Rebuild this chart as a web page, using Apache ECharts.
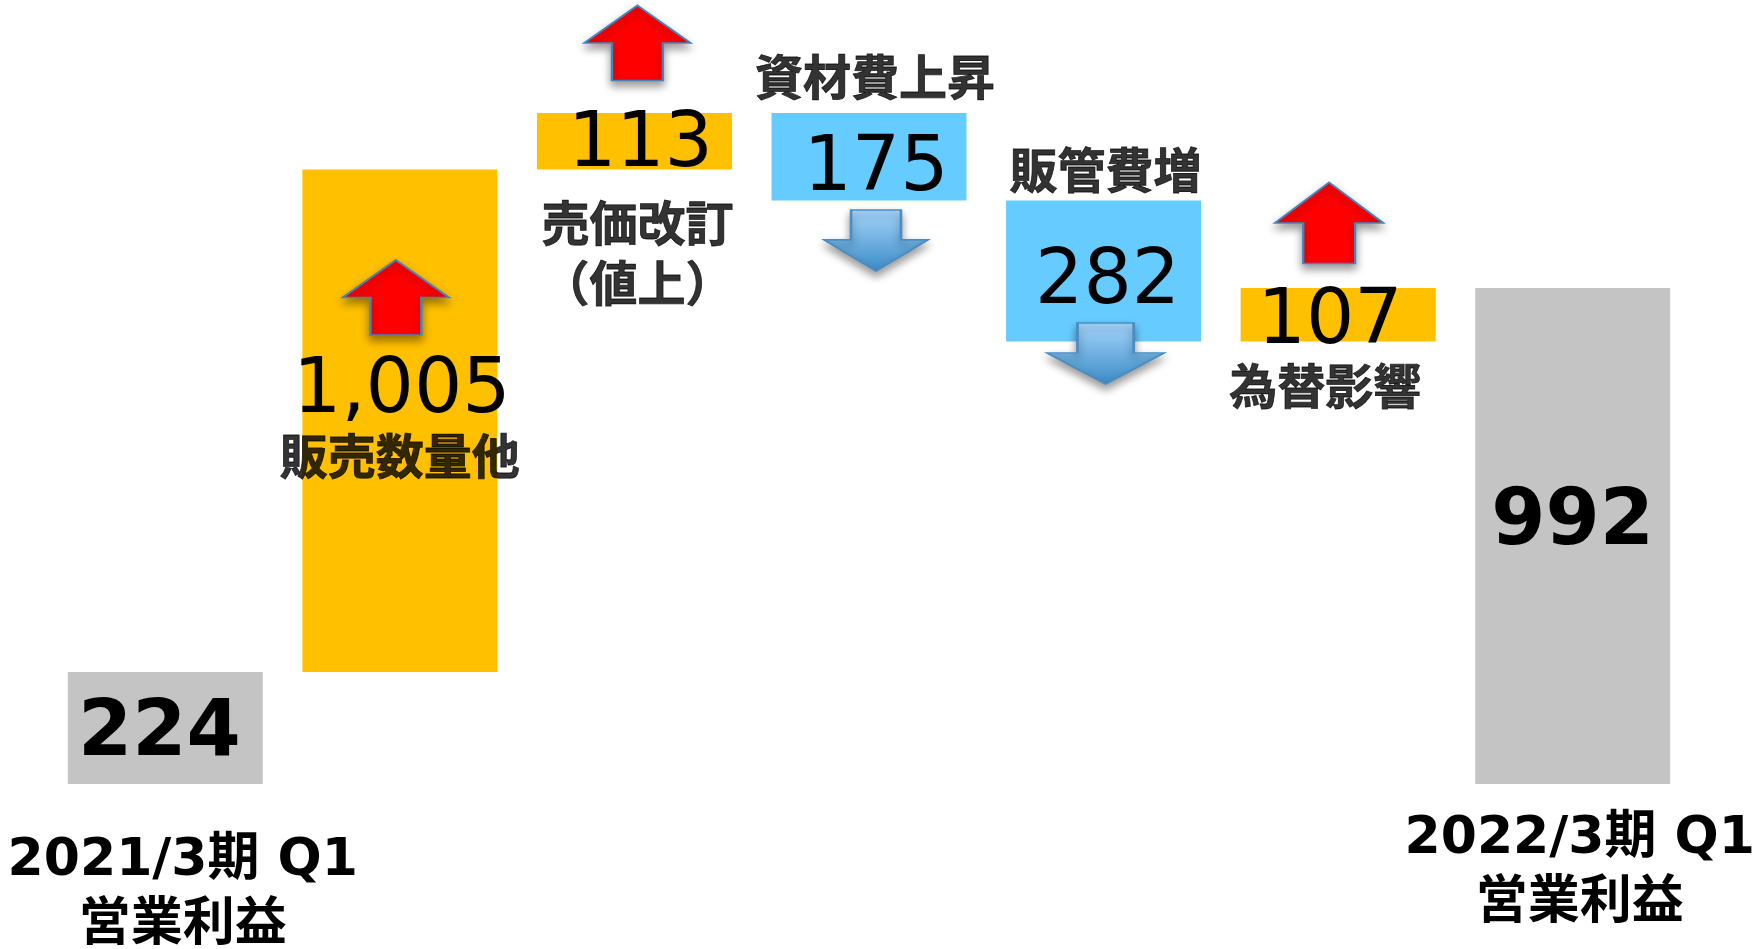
<!DOCTYPE html>
<html>
<head>
<meta charset="utf-8">
<script src="https://cdn.jsdelivr.net/npm/echarts/dist/echarts.min.js"></script>
<style>
  html, body { margin: 0; padding: 0; background: #fff; }
  #chart { width: 1756px; height: 949px; }
</style>
</head>
<body>
<div id="chart"></div>
<script>
// waterfall data
const categories = ['2021/3期 Q1\n営業利益', '販売数量他', '売価改訂\n（値上）', '資材費上昇', '販管費増', '為替影響', '2022/3期 Q1\n営業利益'];
const changes = [224, 1005, 113, -175, -282, 107, 992];
const isTotal = [true, false, false, false, false, false, true];
const valueLabels = ['224', '1,005', '113', '175', '282', '107', '992'];

const NUM_FONT = '"DejaVu Sans", "Noto Sans CJK JP", sans-serif';
const CJK_FONT = '"Noto Sans CJK JP", "DejaVu Sans", sans-serif';
const GRAY = '#C4C4C4', YELLOW = '#FFC000', BLUE = '#66CCFF';

// floating bars: invisible base + visible part
const bases = [];
const heights = [];
let running = 0;
changes.forEach((c, i) => {
  if (isTotal[i]) {
    bases.push(0); heights.push(c); running = c;
  } else if (c >= 0) {
    bases.push(running); heights.push(c); running += c;
  } else {
    running += c; bases.push(running); heights.push(-c);
  }
});
const topOf = (i) => bases[i] + heights[i];
const bottomOf = (i) => bases[i];

// label placement for the numbers on each bar
const valueLabelStyle = [
  { position: 'inside', offset: [-6, 7], fontWeight: 'bold', fontSize: 78 },
  { position: ['50%', 223], offset: [2, 0], fontSize: 76 },
  { position: 'inside', offset: [6, 5], fontSize: 76 },
  { position: ['50%', 57], offset: [7, 0], fontSize: 76 },
  { position: ['50%', 83], offset: [4, 0], fontSize: 76 },
  { position: 'inside', offset: [-8, 8], fontSize: 76 },
  { position: ['50%', 236], offset: [0, 0], fontWeight: 'bold', fontSize: 78 }
];

// item names placed next to the bars (middle categories only)
const nameLayout = {
  1: { edge: 'top', offset: [0, 286] },
  2: { edge: 'bottom', offset: [3, 83] },
  3: { edge: 'top', offset: [6, -36] },
  4: { edge: 'top', offset: [2, -31] },
  5: { edge: 'bottom', offset: [-13, 44] }
};

// arrows
const UP = 'path://M50,0 L100,50 L74,50 L74,100 L26,100 L26,50 L0,50 Z';
const DOWN = 'path://M26,0 L74,0 L74,49 L100,49 L50,100 L0,49 L26,49 Z';
const arrowLayout = {
  1: { edge: 'top', dir: 'up', size: [106, 75], offset: [-4, 128] },
  2: { edge: 'top', dir: 'up', size: [106, 75], offset: [3, -70] },
  3: { edge: 'bottom', dir: 'down', size: [104, 61], offset: [7, 40] },
  4: { edge: 'bottom', dir: 'down', size: [117, 61], offset: [2, 12] },
  5: { edge: 'top', dir: 'up', size: [108, 81], offset: [-9, -65] }
};

const barColor = (i) => isTotal[i] ? GRAY : (changes[i] >= 0 ? YELLOW : BLUE);
const edgeValue = (i, edge) => edge === 'top' ? topOf(i) : bottomOf(i);

const blueGrad = new echarts.graphic.LinearGradient(0, 0, 0, 1, [
  { offset: 0, color: '#A6D6FC' },
  { offset: 1, color: '#3A8BC6' }
]);

const chart = echarts.init(document.getElementById('chart'));

chart.setOption({
  backgroundColor: '#fff',
  animation: false,
  grid: { left: 48, right: 66, top: 34, bottom: 165, containLabel: false, outerBoundsMode: 'none' },
  xAxis: {
    type: 'category',
    data: categories,
    axisLine: { show: false },
    axisTick: { show: false },
    axisLabel: {
      interval: 0,
      margin: 23,
      formatter: (v, i) => {
        if (!isTotal[i]) return '';
        const lines = v.split('\n');
        if (i === 0) return '{s| }\n{a|' + lines[0] + '}\n{a|' + lines[1] + '}';
        return '{b|' + lines[0] + '}\n{b|' + lines[1] + '}';
      },
      rich: {
        s: { fontSize: 1, lineHeight: 22, height: 22 },
        a: { fontFamily: NUM_FONT, fontWeight: 'bold', fontSize: 52, lineHeight: 65, color: '#000', padding: [0, 0, 0, 35] },
        b: { fontFamily: NUM_FONT, fontWeight: 'bold', fontSize: 52, lineHeight: 65, color: '#000', padding: [0, 0, 0, 14] }
      }
    }
  },
  yAxis: { type: 'value', min: 0, max: 1500, show: false, splitLine: { show: false } },
  series: [
    {
      type: 'bar',
      stack: 'w',
      barWidth: 195,
      silent: true,
      itemStyle: { color: 'transparent' },
      data: bases
    },
    {
      type: 'bar',
      stack: 'w',
      barWidth: 195,
      data: heights.map((h, i) => ({
        value: h,
        itemStyle: { color: barColor(i) },
        label: Object.assign({
          show: true,
          formatter: valueLabels[i],
          color: '#000',
          fontFamily: NUM_FONT,
          align: 'center',
          verticalAlign: 'middle'
        }, valueLabelStyle[i])
      }))
    },
    {
      type: 'scatter',
      symbolSize: 0,
      silent: true,
      z: 5,
      data: Object.keys(nameLayout).map((k) => {
        const i = +k, lay = nameLayout[k];
        return {
          value: [i, edgeValue(i, lay.edge)],
          label: {
            show: true,
            position: 'inside',
            offset: lay.offset,
            formatter: categories[i],
            fontFamily: CJK_FONT,
            fontWeight: 'bold',
            fontSize: 48,
            lineHeight: 60,
            color: '#000',
            textBorderColor: '#000',
            textBorderWidth: 0.8,
            align: 'center',
            verticalAlign: 'middle'
          }
        };
      })
    },
    {
      type: 'scatter',
      silent: true,
      z: 6,
      data: Object.keys(arrowLayout).map((k) => {
        const i = +k, lay = arrowLayout[k];
        const up = lay.dir === 'up';
        return {
          value: [i, edgeValue(i, lay.edge)],
          symbol: up ? UP : DOWN,
          symbolSize: lay.size,
          symbolOffset: lay.offset,
          itemStyle: {
            color: up ? '#FF0000' : blueGrad,
            borderColor: up ? '#3F86BF' : '#4A8DC4',
            borderWidth: 2,
            opacity: 1,
            shadowBlur: 8,
            shadowColor: 'rgba(0,0,0,0.4)',
            shadowOffsetY: 5
          }
        };
      })
    }
  ]
});
</script>
</body>
</html>
